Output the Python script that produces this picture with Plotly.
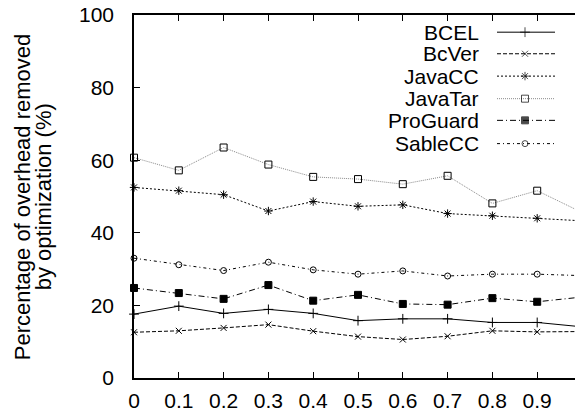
import plotly.graph_objects as go

x_vals = [0, 0.1, 0.2, 0.3, 0.4, 0.5, 0.6, 0.7, 0.8, 0.9, 1.0]
series_names = ["BCEL", "BcVer", "JavaCC", "JavaTar", "ProGuard", "SableCC"]
bcel = [17.6, 19.8, 17.8, 18.9, 17.8, 15.8, 16.3, 16.3, 15.3, 15.3, 14.1]
bcver = [12.6, 13.0, 13.8, 14.7, 12.9, 11.4, 10.6, 11.5, 13.0, 12.7, 12.8]
javacc = [52.5, 51.6, 50.5, 46.0, 48.6, 47.3, 47.7, 45.3, 44.7, 44.0, 43.3]
javatar = [60.7, 57.2, 63.5, 58.8, 55.4, 54.8, 53.4, 55.7, 48.1, 51.6, 45.6]
proguard = [24.8, 23.4, 21.8, 25.6, 21.3, 22.9, 20.4, 20.2, 22.0, 21.0, 22.3]
sablecc = [33.0, 31.2, 29.6, 31.9, 29.8, 28.6, 29.5, 28.1, 28.6, 28.6, 28.2]
x_ticks = [0, 0.1, 0.2, 0.3, 0.4, 0.5, 0.6, 0.7, 0.8, 0.9, 1]
x_tick_labels = ["0", "0.1", "0.2", "0.3", "0.4", "0.5", "0.6", "0.7", "0.8", "0.9", "1"]
y_ticks = [0, 20, 40, 60, 80, 100]

values = [bcel, bcver, javacc, javatar, proguard, sablecc]
styles = [
    dict(color="black", dash="solid", symbol="cross-thin", size=7, mcolor="black"),
    dict(color="black", dash="4px,2px", symbol="x-thin", size=6, mcolor="black"),
    dict(color="black", dash="2px,2px", symbol="asterisk", size=7, mcolor="black"),
    dict(color="#8a8a8a", dash="1px,1px", symbol="square-open", size=7, mcolor="black"),
    dict(color="black", dash="6px,3px,1px,3px", symbol="square", size=7, mcolor="black"),
    dict(color="black", dash="3px,3px,1px,3px", symbol="circle-open", size=6, mcolor="black"),
]

FONT = "Liberation Sans, Arial, sans-serif"
OFF = 8  # page body margin in the browser
W, H = 583 - OFF, 419 - OFF
L, R, T, B = 134 - OFF, 1, 14.5 - OFF, 41
pw, ph = W - L - R, H - T - B

fig = go.Figure()
for name, vals, st in zip(series_names, values, styles):
    fig.add_trace(go.Scatter(
        x=x_vals, y=vals, mode="lines+markers", name=name, showlegend=False,
        line=dict(color=st["color"], width=1, dash=st["dash"]),
        marker=dict(symbol=st["symbol"], size=st["size"], color=st["mcolor"],
                    line=dict(color=st["mcolor"], width=1)),
        cliponaxis=False,
    ))

# custom legend (text right-aligned, sample on the right); positions in page pixels
row_py = [31.7, 53.3, 75.7, 98.3, 120, 143.3]
lx0, lxm, lx1, tx = 497, 525, 555, 481


def fxp(px):
    return (px - OFF - L) / pw


def fyp(py):
    return (H - B - (py - OFF)) / ph


annotations = []
for name, st, py in zip(series_names, styles, row_py):
    fy = fyp(py)
    fx = [fxp(lx0), fxp(lxm), fxp(lx1)]
    fig.add_trace(go.Scatter(
        x=fx, y=[fy] * 3, mode="lines+markers", showlegend=False, hoverinfo="skip",
        xaxis="x2", yaxis="y2",
        line=dict(color=st["color"], width=1, dash=st["dash"]),
        marker=dict(symbol=st["symbol"], size=[0, st["size"], 0], color=st["mcolor"],
                    line=dict(color=st["mcolor"], width=1)),
    ))
    annotations.append(dict(
        x=fxp(tx), y=fy, xref="paper", yref="paper", xanchor="right", yanchor="middle",
        text=name, showarrow=False, font=dict(family=FONT, size=21, color="black"),
    ))

# y-axis title (two lines)
for txt, px in [("Percentage of overhead removed", 22), ("by optimization (%)", 43)]:
    annotations.append(dict(
        x=fxp(px), y=fyp(197), xref="paper", yref="paper", xanchor="center", yanchor="middle",
        text=txt, textangle=-90, showarrow=False, font=dict(family=FONT, size=22, color="black"),
    ))

axis_common = dict(showgrid=False, zeroline=False, showline=True, linecolor="black", linewidth=1.5,
                   mirror="ticks", ticks="inside", ticklen=6, tickwidth=1, tickcolor="black",
                   automargin=False, ticklabeloverflow="allow",
                   tickfont=dict(family=FONT, size=21, color="black"))

fig.update_layout(
    width=W, height=H,
    margin=dict(l=L, r=R, t=T, b=B, pad=0, autoexpand=False),
    paper_bgcolor="white", plot_bgcolor="white",
    xaxis=dict(range=[0, 1], tickvals=x_ticks, ticktext=x_tick_labels, ticklabelstandoff=3, **axis_common),
    yaxis=dict(range=[0, 100], tickvals=y_ticks, ticklabelstandoff=14, **axis_common),
    xaxis2=dict(range=[0, 1], overlaying="x", visible=False, fixedrange=True),
    yaxis2=dict(range=[0, 1], overlaying="y", visible=False, fixedrange=True),
    annotations=annotations,
    showlegend=False,
)

fig.write_html("out.html")
